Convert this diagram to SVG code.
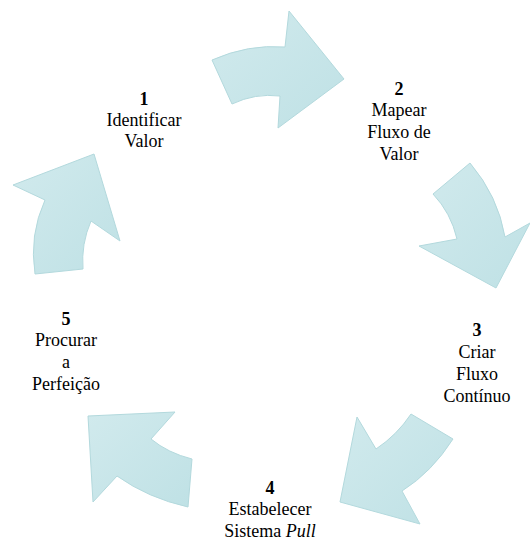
<svg xmlns="http://www.w3.org/2000/svg" width="530" height="540" viewBox="0 0 530 540">
<defs>
<linearGradient id="g" x1="0" y1="0" x2="1" y2="1">
<stop offset="0" stop-color="#d1eaed"/>
<stop offset="1" stop-color="#bfe1e5"/>
</linearGradient>
<style>
.arr{fill:url(#g);stroke:#b3d9dd;stroke-width:1;stroke-linejoin:miter}
text{font-family:"Liberation Serif","Times New Roman","Tinos","DejaVu Serif","Noto Serif",serif;font-size:18px;fill:#000;text-anchor:middle}
.n{font-weight:bold}
</style>
</defs>
<rect width="530" height="540" fill="#fff"/>
<g id="connectors">
<path class="arr" d="M212,60 Q248,44 285,47 L289,11 L344,79 L278,128 L280,96 Q255,93 232,104 Z"/>
<path class="arr" d="M470,163 Q498,196 505,237 L530,223 L496,288 L419,246 L457,239 Q451,213 433,194 Z"/>
<path class="arr" d="M453,439 Q432,472 402,491 L420,524 L340,502 L357,417 L376,449 Q397,435 411,414 Z"/>
<path class="arr" d="M192,459 L188,507 Q148,498 117,476 L93,502 L88,416 L175,412 L151,439 Q168,453 192,459 Z"/>
<path class="arr" d="M35,274 Q29,235 45,200 L13,185 L94,154 L120,241 L91,221 Q81,244 83,269 Z"/>
</g>
<g id="node1">
<text class="n" x="144" y="105">1</text>
<text x="144" y="126">Identificar</text>
<text x="144" y="147">Valor</text>
</g>
<g id="node2">
<text class="n" x="399" y="95">2</text>
<text x="399" y="116">Mapear</text>
<text x="399" y="138">Fluxo de</text>
<text x="399" y="160">Valor</text>
</g>
<g id="node3">
<text class="n" x="477" y="336">3</text>
<text x="477" y="358">Criar</text>
<text x="477" y="380">Fluxo</text>
<text x="477" y="402">Contínuo</text>
</g>
<g id="node4">
<text class="n" x="270" y="494">4</text>
<text x="270" y="515">Estabelecer</text>
<text x="270" y="537">Sistema <tspan font-style="italic">Pull</tspan></text>
</g>
<g id="node5">
<text class="n" x="66" y="325">5</text>
<text x="66" y="346">Procurar</text>
<text x="66" y="368">a</text>
<text x="66" y="390">Perfeição</text>
</g>
</svg>
